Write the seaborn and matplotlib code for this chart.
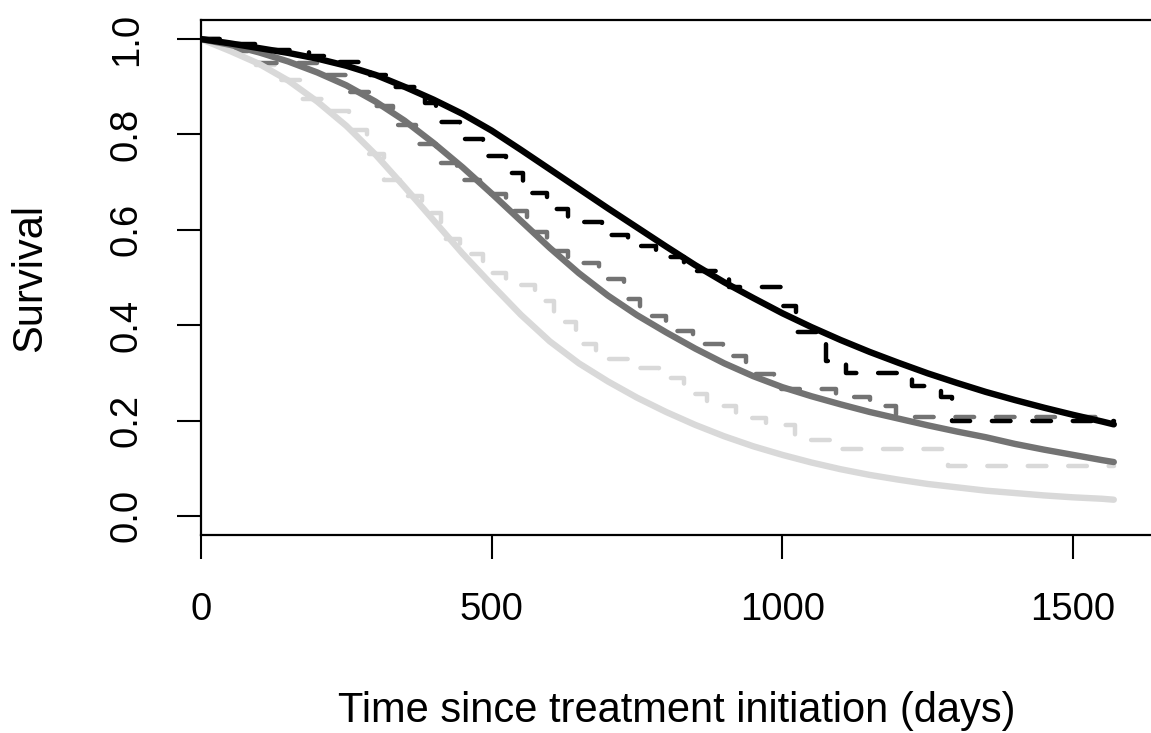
import pandas as pd
import numpy as np
import matplotlib
matplotlib.use('Agg')
import matplotlib.pyplot as plt
import seaborn as sns

fit_days = [0, 50, 100, 150, 200, 250, 300, 350, 400, 450, 500, 550, 600, 650, 700, 750,
            800, 850, 900, 950, 1000, 1050, 1100, 1150, 1200, 1250, 1300, 1350, 1400, 1450,
            1500, 1550, 1570]
fit_black = [1.0, 0.991, 0.981, 0.971, 0.959, 0.944, 0.925, 0.9, 0.873, 0.843, 0.808,
             0.768, 0.727, 0.686, 0.645, 0.605, 0.565, 0.526, 0.49, 0.457, 0.425, 0.396,
             0.369, 0.344, 0.321, 0.299, 0.279, 0.26, 0.243, 0.227, 0.212, 0.198, 0.192]
fit_gray = [1.0, 0.988, 0.972, 0.953, 0.93, 0.903, 0.869, 0.829, 0.782, 0.731, 0.676,
            0.619, 0.562, 0.509, 0.462, 0.421, 0.385, 0.351, 0.32, 0.293, 0.27, 0.251,
            0.234, 0.218, 0.204, 0.19, 0.177, 0.165, 0.151, 0.139, 0.128, 0.117, 0.113]
fit_light = [1.0, 0.975, 0.948, 0.913, 0.869, 0.818, 0.758, 0.69, 0.62, 0.55, 0.485,
             0.422, 0.366, 0.32, 0.282, 0.248, 0.218, 0.191, 0.167, 0.146, 0.128, 0.112,
             0.098, 0.086, 0.076, 0.067, 0.06, 0.053, 0.048, 0.043, 0.039, 0.036, 0.034]

# Kaplan-Meier step curves (time of step, survival after step)
km_black_days = [0, 60, 120, 185, 225, 290, 330, 385, 405, 445, 485, 525, 553, 595, 632,
                 690, 735, 783, 830, 909, 1000, 1024, 1075, 1110, 1223, 1273, 1292, 1570]
km_black_surv = [1.0, 0.99, 0.978, 0.964, 0.952, 0.925, 0.9, 0.865, 0.826, 0.79, 0.755,
                 0.72, 0.678, 0.643, 0.617, 0.59, 0.566, 0.543, 0.514, 0.48, 0.44, 0.385,
                 0.325, 0.3, 0.272, 0.25, 0.2, 0.2]
km_gray_days = [0, 60, 95, 215, 250, 290, 330, 370, 405, 440, 480, 525, 560, 595, 632, 685,
                727, 755, 800, 847, 898, 938, 985, 1092, 1150, 1195, 1570]
km_gray_surv = [1.0, 0.975, 0.95, 0.925, 0.89, 0.86, 0.82, 0.78, 0.74, 0.705, 0.675, 0.64,
                0.595, 0.555, 0.53, 0.497, 0.455, 0.42, 0.387, 0.36, 0.336, 0.298, 0.266,
                0.25, 0.23, 0.207, 0.207]
km_light_days = [0, 40, 90, 135, 170, 220, 255, 285, 315, 343, 380, 413, 445, 485, 525, 575,
                 607, 645, 680, 735, 788, 830, 870, 920, 972, 1022, 1088, 1284, 1570]
km_light_surv = [1.0, 0.975, 0.945, 0.915, 0.875, 0.85, 0.81, 0.76, 0.705, 0.67, 0.635,
                 0.58, 0.55, 0.51, 0.485, 0.45, 0.407, 0.36, 0.33, 0.31, 0.29, 0.255, 0.23,
                 0.205, 0.19, 0.16, 0.14, 0.105, 0.105]

colours = {'black': '#000000', 'gray': '#737373', 'light': '#d9d9d9'}

sns.set_theme(style='white')
plt.rcParams['font.family'] = ['Liberation Sans', 'DejaVu Sans']

fig = plt.figure(figsize=(11.51, 7.33), dpi=100)
ax = fig.add_axes([201 / 1151, 1 - 535 / 733, 950 / 1151, 515 / 733])

dash = (0, (4.2, 4.9))
km = [('light', km_light_days, km_light_surv),
      ('gray', km_gray_days, km_gray_surv),
      ('black', km_black_days, km_black_surv)]
for name, d, s in km:
    sns.lineplot(x=d, y=s, ax=ax, color=colours[name], drawstyle='steps-post',
                 linestyle=dash, linewidth=3.2, dash_capstyle='round',
                 errorbar=None, sort=False)

for name, s in [('light', fit_light), ('gray', fit_gray), ('black', fit_black)]:
    sns.lineplot(x=fit_days, y=s, ax=ax, color=colours[name], linewidth=4.6,
                 solid_capstyle='round', solid_joinstyle='round', errorbar=None, sort=False)

ax.set_xlim(0, 1634)
ax.set_ylim(-0.04, 1.04)
ax.set_xticks([0, 500, 1000, 1500])
ax.set_xticklabels(['0', '500', '1000', '1500'])
ax.set_yticks([0.0, 0.2, 0.4, 0.6, 0.8, 1.0])
ax.set_yticklabels(['0.0', '0.2', '0.4', '0.6', '0.8', '1.0'], rotation=90,
                   va='center', ha='center')

for side in ['left', 'top', 'bottom']:
    ax.spines[side].set_visible(True)
    ax.spines[side].set_color('black')
    ax.spines[side].set_linewidth(1.6)
ax.spines['right'].set_visible(False)

ax.tick_params(axis='both', which='major', direction='out', length=17.3, width=1.5,
               color='black', labelsize=27.5, labelcolor='black')
ax.tick_params(axis='x', pad=23.5, bottom=True)
ax.tick_params(axis='y', pad=36, left=True)

ax.set_xlabel('Time since treatment initiation (days)', fontsize=30, color='black',
              va='center')
ax.set_ylabel('Survival', fontsize=30, color='black', va='center')
ax.xaxis.set_label_coords(0.501, -0.341)
ax.yaxis.set_label_coords((30 - 201) / 950, 0.5)

fig.savefig('out.png', dpi=100)
